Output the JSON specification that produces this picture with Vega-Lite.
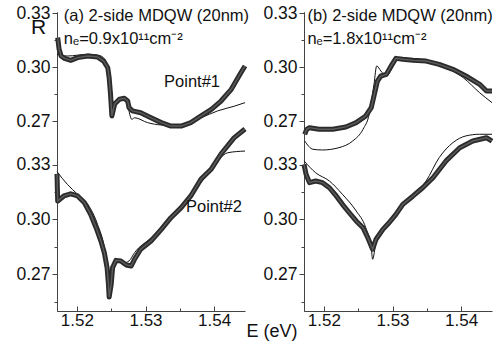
{
"$schema":"https://vega.github.io/schema/vega-lite/v6.json",
"padding":{"left":15,"top":4,"right":2,"bottom":2},
"bounds":"flush",
"spacing":59,
"background":"white",
"data":{"name":"all"},
"datasets":{"all":[
{"p":"a","s":"top","k":"exp","E":1.5172,"R":0.3163},
{"p":"a","s":"top","k":"exp","E":1.5174,"R":0.3100},
{"p":"a","s":"top","k":"exp","E":1.5177,"R":0.3061},
{"p":"a","s":"top","k":"exp","E":1.5182,"R":0.3048},
{"p":"a","s":"top","k":"exp","E":1.5191,"R":0.3037},
{"p":"a","s":"top","k":"exp","E":1.5201,"R":0.3052},
{"p":"a","s":"top","k":"exp","E":1.5216,"R":0.3061},
{"p":"a","s":"top","k":"exp","E":1.5230,"R":0.3056},
{"p":"a","s":"top","k":"exp","E":1.5239,"R":0.3033},
{"p":"a","s":"top","k":"exp","E":1.5245,"R":0.2996},
{"p":"a","s":"top","k":"exp","E":1.5247,"R":0.2941},
{"p":"a","s":"top","k":"exp","E":1.5249,"R":0.2850},
{"p":"a","s":"top","k":"exp","E":1.5251,"R":0.2728},
{"p":"a","s":"top","k":"exp","E":1.5255,"R":0.2794},
{"p":"a","s":"top","k":"exp","E":1.5262,"R":0.2821},
{"p":"a","s":"top","k":"exp","E":1.5269,"R":0.2826},
{"p":"a","s":"top","k":"exp","E":1.5274,"R":0.2811},
{"p":"a","s":"top","k":"exp","E":1.5276,"R":0.2774},
{"p":"a","s":"top","k":"exp","E":1.5281,"R":0.2756},
{"p":"a","s":"top","k":"exp","E":1.5293,"R":0.2746},
{"p":"a","s":"top","k":"exp","E":1.5308,"R":0.2718},
{"p":"a","s":"top","k":"exp","E":1.5323,"R":0.2691},
{"p":"a","s":"top","k":"exp","E":1.5337,"R":0.2672},
{"p":"a","s":"top","k":"exp","E":1.5352,"R":0.2672},
{"p":"a","s":"top","k":"exp","E":1.5366,"R":0.2691},
{"p":"a","s":"top","k":"exp","E":1.5381,"R":0.2728},
{"p":"a","s":"top","k":"exp","E":1.5396,"R":0.2765},
{"p":"a","s":"top","k":"exp","E":1.5410,"R":0.2811},
{"p":"a","s":"top","k":"exp","E":1.5425,"R":0.2876},
{"p":"a","s":"top","k":"exp","E":1.5439,"R":0.2968},
{"p":"a","s":"top","k":"exp","E":1.5445,"R":0.3006},
{"p":"a","s":"top","k":"theory","E":1.5171,"R":0.3071},
{"p":"a","s":"top","k":"theory","E":1.5186,"R":0.3061},
{"p":"a","s":"top","k":"theory","E":1.5216,"R":0.3071},
{"p":"a","s":"top","k":"theory","E":1.5235,"R":0.3061},
{"p":"a","s":"top","k":"theory","E":1.5244,"R":0.3015},
{"p":"a","s":"top","k":"theory","E":1.5247,"R":0.2904},
{"p":"a","s":"top","k":"theory","E":1.5250,"R":0.2737},
{"p":"a","s":"top","k":"theory","E":1.5255,"R":0.2802},
{"p":"a","s":"top","k":"theory","E":1.5264,"R":0.2826},
{"p":"a","s":"top","k":"theory","E":1.5273,"R":0.2811},
{"p":"a","s":"top","k":"theory","E":1.5277,"R":0.2737},
{"p":"a","s":"top","k":"theory","E":1.5280,"R":0.2709},
{"p":"a","s":"top","k":"theory","E":1.5284,"R":0.2718},
{"p":"a","s":"top","k":"theory","E":1.5303,"R":0.2691},
{"p":"a","s":"top","k":"theory","E":1.5323,"R":0.2678},
{"p":"a","s":"top","k":"theory","E":1.5342,"R":0.2676},
{"p":"a","s":"top","k":"theory","E":1.5362,"R":0.2691},
{"p":"a","s":"top","k":"theory","E":1.5381,"R":0.2718},
{"p":"a","s":"top","k":"theory","E":1.5405,"R":0.2756},
{"p":"a","s":"top","k":"theory","E":1.5430,"R":0.2783},
{"p":"a","s":"top","k":"theory","E":1.5445,"R":0.2802},
{"p":"a","s":"bottom","k":"exp","E":1.5171,"R":0.3250},
{"p":"a","s":"bottom","k":"exp","E":1.5172,"R":0.3101},
{"p":"a","s":"bottom","k":"exp","E":1.5181,"R":0.3129},
{"p":"a","s":"bottom","k":"exp","E":1.5191,"R":0.3141},
{"p":"a","s":"bottom","k":"exp","E":1.5201,"R":0.3129},
{"p":"a","s":"bottom","k":"exp","E":1.5211,"R":0.3092},
{"p":"a","s":"bottom","k":"exp","E":1.5220,"R":0.3028},
{"p":"a","s":"bottom","k":"exp","E":1.5228,"R":0.2955},
{"p":"a","s":"bottom","k":"exp","E":1.5235,"R":0.2882},
{"p":"a","s":"bottom","k":"exp","E":1.5240,"R":0.2818},
{"p":"a","s":"bottom","k":"exp","E":1.5244,"R":0.2736},
{"p":"a","s":"bottom","k":"exp","E":1.5246,"R":0.2645},
{"p":"a","s":"bottom","k":"exp","E":1.5247,"R":0.2575},
{"p":"a","s":"bottom","k":"exp","E":1.5250,"R":0.2645},
{"p":"a","s":"bottom","k":"exp","E":1.5252,"R":0.2736},
{"p":"a","s":"bottom","k":"exp","E":1.5257,"R":0.2776},
{"p":"a","s":"bottom","k":"exp","E":1.5264,"R":0.2773},
{"p":"a","s":"bottom","k":"exp","E":1.5272,"R":0.2751},
{"p":"a","s":"bottom","k":"exp","E":1.5279,"R":0.2745},
{"p":"a","s":"bottom","k":"exp","E":1.5284,"R":0.2782},
{"p":"a","s":"bottom","k":"exp","E":1.5293,"R":0.2837},
{"p":"a","s":"bottom","k":"exp","E":1.5308,"R":0.2882},
{"p":"a","s":"bottom","k":"exp","E":1.5323,"R":0.2946},
{"p":"a","s":"bottom","k":"exp","E":1.5337,"R":0.3010},
{"p":"a","s":"bottom","k":"exp","E":1.5352,"R":0.3065},
{"p":"a","s":"bottom","k":"exp","E":1.5366,"R":0.3129},
{"p":"a","s":"bottom","k":"exp","E":1.5381,"R":0.3222},
{"p":"a","s":"bottom","k":"exp","E":1.5396,"R":0.3277},
{"p":"a","s":"bottom","k":"exp","E":1.5410,"R":0.3359},
{"p":"a","s":"bottom","k":"exp","E":1.5429,"R":0.3447},
{"p":"a","s":"bottom","k":"exp","E":1.5445,"R":0.3496},
{"p":"a","s":"bottom","k":"theory","E":1.5171,"R":0.3262},
{"p":"a","s":"bottom","k":"theory","E":1.5186,"R":0.3193},
{"p":"a","s":"bottom","k":"theory","E":1.5201,"R":0.3138},
{"p":"a","s":"bottom","k":"theory","E":1.5216,"R":0.3083},
{"p":"a","s":"bottom","k":"theory","E":1.5230,"R":0.2974},
{"p":"a","s":"bottom","k":"theory","E":1.5240,"R":0.2845},
{"p":"a","s":"bottom","k":"theory","E":1.5245,"R":0.2718},
{"p":"a","s":"bottom","k":"theory","E":1.5247,"R":0.2590},
{"p":"a","s":"bottom","k":"theory","E":1.5251,"R":0.2700},
{"p":"a","s":"bottom","k":"theory","E":1.5257,"R":0.2776},
{"p":"a","s":"bottom","k":"theory","E":1.5269,"R":0.2763},
{"p":"a","s":"bottom","k":"theory","E":1.5276,"R":0.2773},
{"p":"a","s":"bottom","k":"theory","E":1.5284,"R":0.2818},
{"p":"a","s":"bottom","k":"theory","E":1.5308,"R":0.2900},
{"p":"a","s":"bottom","k":"theory","E":1.5332,"R":0.2992},
{"p":"a","s":"bottom","k":"theory","E":1.5362,"R":0.3119},
{"p":"a","s":"bottom","k":"theory","E":1.5391,"R":0.3248},
{"p":"a","s":"bottom","k":"theory","E":1.5420,"R":0.3366},
{"p":"a","s":"bottom","k":"theory","E":1.5445,"R":0.3375},
{"p":"b","s":"top","k":"exp","E":1.5172,"R":0.2626},
{"p":"b","s":"top","k":"exp","E":1.5175,"R":0.2654},
{"p":"b","s":"top","k":"exp","E":1.5179,"R":0.2663},
{"p":"b","s":"top","k":"exp","E":1.5193,"R":0.2654},
{"p":"b","s":"top","k":"exp","E":1.5213,"R":0.2654},
{"p":"b","s":"top","k":"exp","E":1.5232,"R":0.2667},
{"p":"b","s":"top","k":"exp","E":1.5247,"R":0.2691},
{"p":"b","s":"top","k":"exp","E":1.5261,"R":0.2728},
{"p":"b","s":"top","k":"exp","E":1.5269,"R":0.2774},
{"p":"b","s":"top","k":"exp","E":1.5273,"R":0.2839},
{"p":"b","s":"top","k":"exp","E":1.5278,"R":0.2922},
{"p":"b","s":"top","k":"exp","E":1.5283,"R":0.2950},
{"p":"b","s":"top","k":"exp","E":1.5291,"R":0.2959},
{"p":"b","s":"top","k":"exp","E":1.5298,"R":0.3006},
{"p":"b","s":"top","k":"exp","E":1.5305,"R":0.3048},
{"p":"b","s":"top","k":"exp","E":1.5315,"R":0.3043},
{"p":"b","s":"top","k":"exp","E":1.5330,"R":0.3037},
{"p":"b","s":"top","k":"exp","E":1.5349,"R":0.3033},
{"p":"b","s":"top","k":"exp","E":1.5368,"R":0.3015},
{"p":"b","s":"top","k":"exp","E":1.5388,"R":0.2987},
{"p":"b","s":"top","k":"exp","E":1.5407,"R":0.2950},
{"p":"b","s":"top","k":"exp","E":1.5427,"R":0.2904},
{"p":"b","s":"top","k":"exp","E":1.5437,"R":0.2867},
{"p":"b","s":"top","k":"exp","E":1.5445,"R":0.2867},
{"p":"b","s":"top","k":"theory","E":1.5172,"R":0.2589},
{"p":"b","s":"top","k":"theory","E":1.5184,"R":0.2543},
{"p":"b","s":"top","k":"theory","E":1.5198,"R":0.2539},
{"p":"b","s":"top","k":"theory","E":1.5222,"R":0.2552},
{"p":"b","s":"top","k":"theory","E":1.5242,"R":0.2589},
{"p":"b","s":"top","k":"theory","E":1.5257,"R":0.2654},
{"p":"b","s":"top","k":"theory","E":1.5266,"R":0.2737},
{"p":"b","s":"top","k":"theory","E":1.5273,"R":0.2904},
{"p":"b","s":"top","k":"theory","E":1.5277,"R":0.3006},
{"p":"b","s":"top","k":"theory","E":1.5283,"R":0.2978},
{"p":"b","s":"top","k":"theory","E":1.5291,"R":0.2950},
{"p":"b","s":"top","k":"theory","E":1.5300,"R":0.2996},
{"p":"b","s":"top","k":"theory","E":1.5308,"R":0.3048},
{"p":"b","s":"top","k":"theory","E":1.5330,"R":0.3043},
{"p":"b","s":"top","k":"theory","E":1.5354,"R":0.3024},
{"p":"b","s":"top","k":"theory","E":1.5378,"R":0.2996},
{"p":"b","s":"top","k":"theory","E":1.5403,"R":0.2941},
{"p":"b","s":"top","k":"theory","E":1.5427,"R":0.2857},
{"p":"b","s":"top","k":"theory","E":1.5445,"R":0.2802},
{"p":"b","s":"bottom","k":"exp","E":1.5171,"R":0.3302},
{"p":"b","s":"bottom","k":"exp","E":1.5174,"R":0.3248},
{"p":"b","s":"bottom","k":"exp","E":1.5179,"R":0.3202},
{"p":"b","s":"bottom","k":"exp","E":1.5188,"R":0.3211},
{"p":"b","s":"bottom","k":"exp","E":1.5198,"R":0.3202},
{"p":"b","s":"bottom","k":"exp","E":1.5208,"R":0.3174},
{"p":"b","s":"bottom","k":"exp","E":1.5218,"R":0.3129},
{"p":"b","s":"bottom","k":"exp","E":1.5227,"R":0.3083},
{"p":"b","s":"bottom","k":"exp","E":1.5237,"R":0.3037},
{"p":"b","s":"bottom","k":"exp","E":1.5247,"R":0.2992},
{"p":"b","s":"bottom","k":"exp","E":1.5257,"R":0.2955},
{"p":"b","s":"bottom","k":"exp","E":1.5264,"R":0.2900},
{"p":"b","s":"bottom","k":"exp","E":1.5271,"R":0.2837},
{"p":"b","s":"bottom","k":"exp","E":1.5276,"R":0.2892},
{"p":"b","s":"bottom","k":"exp","E":1.5286,"R":0.2946},
{"p":"b","s":"bottom","k":"exp","E":1.5295,"R":0.2982},
{"p":"b","s":"bottom","k":"exp","E":1.5305,"R":0.3028},
{"p":"b","s":"bottom","k":"exp","E":1.5315,"R":0.3083},
{"p":"b","s":"bottom","k":"exp","E":1.5330,"R":0.3129},
{"p":"b","s":"bottom","k":"exp","E":1.5344,"R":0.3174},
{"p":"b","s":"bottom","k":"exp","E":1.5359,"R":0.3229},
{"p":"b","s":"bottom","k":"exp","E":1.5378,"R":0.3321},
{"p":"b","s":"bottom","k":"exp","E":1.5398,"R":0.3393},
{"p":"b","s":"bottom","k":"exp","E":1.5417,"R":0.3430},
{"p":"b","s":"bottom","k":"exp","E":1.5437,"R":0.3448},
{"p":"b","s":"bottom","k":"exp","E":1.5445,"R":0.3430},
{"p":"b","s":"bottom","k":"theory","E":1.5171,"R":0.3321},
{"p":"b","s":"bottom","k":"theory","E":1.5188,"R":0.3256},
{"p":"b","s":"bottom","k":"theory","E":1.5208,"R":0.3211},
{"p":"b","s":"bottom","k":"theory","E":1.5227,"R":0.3138},
{"p":"b","s":"bottom","k":"theory","E":1.5247,"R":0.3047},
{"p":"b","s":"bottom","k":"theory","E":1.5261,"R":0.2955},
{"p":"b","s":"bottom","k":"theory","E":1.5269,"R":0.2845},
{"p":"b","s":"bottom","k":"theory","E":1.5271,"R":0.2782},
{"p":"b","s":"bottom","k":"theory","E":1.5276,"R":0.2873},
{"p":"b","s":"bottom","k":"theory","E":1.5291,"R":0.2955},
{"p":"b","s":"bottom","k":"theory","E":1.5310,"R":0.3047},
{"p":"b","s":"bottom","k":"theory","E":1.5330,"R":0.3129},
{"p":"b","s":"bottom","k":"theory","E":1.5349,"R":0.3211},
{"p":"b","s":"bottom","k":"theory","E":1.5368,"R":0.3339},
{"p":"b","s":"bottom","k":"theory","E":1.5388,"R":0.3421},
{"p":"b","s":"bottom","k":"theory","E":1.5407,"R":0.3458},
{"p":"b","s":"bottom","k":"theory","E":1.5427,"R":0.3467},
{"p":"b","s":"bottom","k":"theory","E":1.5445,"R":0.3467},
{"p":"a","s":"top","k":"label","E":1.5181,"R":0.3286,"t":"(a) 2-side MDQW (20nm)"},
{"p":"a","s":"top","k":"label","E":1.5181,"R":0.3156,"t":"nₑ=0.9x10¹¹cm⁻²"},
{"p":"a","s":"top","k":"label","E":1.5327,"R":0.2919,"t":"Point#1"},
{"p":"a","s":"bottom","k":"label","E":1.5359,"R":0.3071,"t":"Point#2"},
{"p":"b","s":"top","k":"label","E":1.5176,"R":0.3286,"t":"(b) 2-side MDQW (20nm)"},
{"p":"b","s":"top","k":"label","E":1.5176,"R":0.3156,"t":"nₑ=1.8x10¹¹cm⁻²"}
]},
"hconcat":[
{
"width":188,"height":299,
"encoding":{"x":{"field":"E","type":"quantitative","scale":{"domain":[1.5171,1.5445],"nice":false,"zero":false},
 "axis":{"values":[1.52,1.525,1.53,1.535,1.54],"labelExpr":"round(datum.value*1000) % 10 === 0 ? format(datum.value,'.2f') : ''",
 "tickSize":{"condition":{"test":"round(datum.value*1000) % 10 !== 0","value":-3},"value":-5},"labelPadding":6,"labelFontSize":17,
 "title":"E (eV)","titleX":189,"titleY":20,"titleAlign":"left","titleBaseline":"middle","titleFontSize":18,"titleFontWeight":"normal"}}},
"resolve":{"scale":{"y":"independent"},"axis":{"y":"independent"}},
"layer":[
{"transform":[{"filter":"datum.p==='a' && datum.s==='top'"}],
 "encoding":{"y":{"field":"R","type":"quantitative","scale":{"domain":[0.16444,0.33056],"nice":false,"zero":false},
  "axis":{"orient":"left","values":[0.27,0.285,0.3,0.315,0.33],"labelExpr":"round(datum.value*1000) % 30 === 0 ? format(datum.value,'.2f') : ''",
  "tickSize":{"condition":{"test":"round(datum.value*1000) % 30 !== 0","value":3},"value":5},"labelPadding":2,"labelFontSize":17.5,
  "title":"R","titleAngle":0,"titleX":-19,"titleY":15,"titleAlign":"center","titleBaseline":"middle","titleFontSize":21,"titleFontWeight":"normal"}}},
 "layer":[
  {"transform":[{"filter":"datum.k==='theory'"}],"mark":{"type":"line","color":"#111","strokeWidth":1,"interpolate":"monotone"}},
  {"transform":[{"filter":"datum.k==='exp'"}],"mark":{"type":"line","color":"#2b2b2b","strokeWidth":5,"strokeJoin":"round"}},
  {"transform":[{"filter":"datum.k==='exp'"}],"mark":{"type":"line","color":"#5c5c5c","strokeWidth":1.4}},
  {"transform":[{"filter":"datum.k==='label'"}],"mark":{"type":"text","align":"left","baseline":"middle","fontSize":16.5,"color":"#111"},"encoding":{"text":{"field":"t"}}}
 ]},
{"transform":[{"filter":"datum.p==='a' && datum.s==='bottom'"}],
 "encoding":{"y":{"field":"R","type":"quantitative","scale":{"domain":[0.24986,0.4137],"nice":false,"zero":false},
  "axis":{"orient":"left","values":[0.255,0.27,0.285,0.3,0.315,0.33],"labelExpr":"round(datum.value*1000) % 30 === 0 ? format(datum.value,'.2f') : ''",
  "tickSize":{"condition":{"test":"round(datum.value*1000) % 30 !== 0","value":3},"value":5},"labelPadding":2,"labelFontSize":17.5,"title":null}}},
 "layer":[
  {"transform":[{"filter":"datum.k==='theory'"}],"mark":{"type":"line","color":"#111","strokeWidth":1,"interpolate":"monotone"}},
  {"transform":[{"filter":"datum.k==='exp'"}],"mark":{"type":"line","color":"#2b2b2b","strokeWidth":5,"strokeJoin":"round"}},
  {"transform":[{"filter":"datum.k==='exp'"}],"mark":{"type":"line","color":"#5c5c5c","strokeWidth":1.4}},
  {"transform":[{"filter":"datum.k==='label'"}],"mark":{"type":"text","align":"left","baseline":"middle","fontSize":16.5,"color":"#111"},"encoding":{"text":{"field":"t"}}}
 ]}
]
},
{
"width":188,"height":299,
"encoding":{"x":{"field":"E","type":"quantitative","scale":{"domain":[1.5171,1.5445],"nice":false,"zero":false},
 "axis":{"values":[1.52,1.525,1.53,1.535,1.54],"labelExpr":"round(datum.value*1000) % 10 === 0 ? format(datum.value,'.2f') : ''",
 "tickSize":{"condition":{"test":"round(datum.value*1000) % 10 !== 0","value":-3},"value":-5},"labelPadding":6,"labelFontSize":17,"title":null}}},
"resolve":{"scale":{"y":"independent"},"axis":{"y":"independent"}},
"layer":[
{"transform":[{"filter":"datum.p==='b' && datum.s==='top'"}],
 "encoding":{"y":{"field":"R","type":"quantitative","scale":{"domain":[0.16444,0.33056],"nice":false,"zero":false},
  "axis":{"orient":"left","values":[0.27,0.285,0.3,0.315,0.33],"labelExpr":"round(datum.value*1000) % 30 === 0 ? format(datum.value,'.2f') : ''",
  "tickSize":{"condition":{"test":"round(datum.value*1000) % 30 !== 0","value":3},"value":5},"labelPadding":2,"labelFontSize":17.5,"title":null}}},
 "layer":[
  {"transform":[{"filter":"datum.k==='theory'"}],"mark":{"type":"line","color":"#111","strokeWidth":1,"interpolate":"monotone"}},
  {"transform":[{"filter":"datum.k==='exp'"}],"mark":{"type":"line","color":"#2b2b2b","strokeWidth":5,"strokeJoin":"round"}},
  {"transform":[{"filter":"datum.k==='exp'"}],"mark":{"type":"line","color":"#5c5c5c","strokeWidth":1.4}},
  {"transform":[{"filter":"datum.k==='label'"}],"mark":{"type":"text","align":"left","baseline":"middle","fontSize":16.5,"color":"#111"},"encoding":{"text":{"field":"t"}}}
 ]},
{"transform":[{"filter":"datum.p==='b' && datum.s==='bottom'"}],
 "encoding":{"y":{"field":"R","type":"quantitative","scale":{"domain":[0.24986,0.4137],"nice":false,"zero":false},
  "axis":{"orient":"left","values":[0.255,0.27,0.285,0.3,0.315,0.33],"labelExpr":"round(datum.value*1000) % 30 === 0 ? format(datum.value,'.2f') : ''",
  "tickSize":{"condition":{"test":"round(datum.value*1000) % 30 !== 0","value":3},"value":5},"labelPadding":2,"labelFontSize":17.5,"title":null}}},
 "layer":[
  {"transform":[{"filter":"datum.k==='theory'"}],"mark":{"type":"line","color":"#111","strokeWidth":1,"interpolate":"monotone"}},
  {"transform":[{"filter":"datum.k==='exp'"}],"mark":{"type":"line","color":"#2b2b2b","strokeWidth":5,"strokeJoin":"round"}},
  {"transform":[{"filter":"datum.k==='exp'"}],"mark":{"type":"line","color":"#5c5c5c","strokeWidth":1.4}}
 ]}
]
}
],
"config":{"view":{"stroke":null},
 "axis":{"grid":false,"domainColor":"#444","tickColor":"#444","labelColor":"#111","labelFont":"Liberation Sans","titleFont":"Liberation Sans","titleColor":"#111"},
 "text":{"font":"Liberation Sans"}}
}
